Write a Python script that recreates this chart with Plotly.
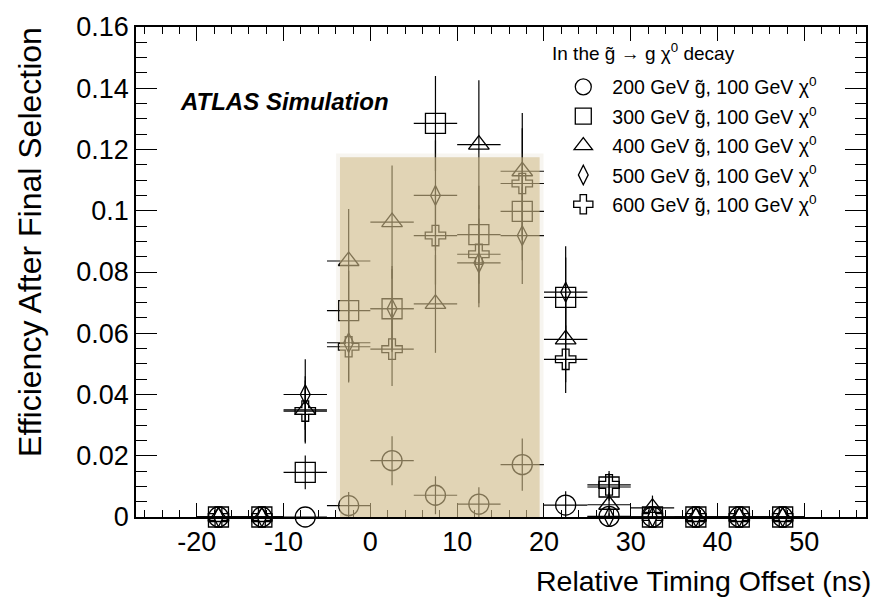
import plotly.graph_objects as go

# ---- data ----
timing_offset = [-17.5, -12.5, -7.5, -2.5, 2.5, 7.5, 12.5, 17.5, 22.5, 27.5, 32.5, 37.5, 42.5, 47.5]
bin_half_width = [2.5] * len(timing_offset)

eff_200 = [0, 0, 0, 0.0037, 0.0184, 0.0071, 0.0042, 0.0171, 0.0039, 0.0002, 0, 0, 0, 0]
err_200 = [0, 0, 0, 0.0045, 0.008, 0.0062, 0.0055, 0.0085, 0.0045, 0.001, 0, 0, 0, 0]

eff_300 = [0, 0, 0.0146, 0.0674, 0.068, 0.1285, 0.0922, 0.0998, 0.0717, 0.0098, 0, 0, 0, 0]
err_300 = [0, 0, 0.0055, 0.013, 0.013, 0.0155, 0.016, 0.016, 0.013, 0.0045, 0, 0, 0, 0]

eff_400 = [0, 0, 0.035, 0.0836, 0.0963, 0.0696, 0.1216, 0.1129, 0.058, 0.004, 0.003, 0, 0, 0]
err_400 = [0, 0, 0.011, 0.017, 0.0185, 0.016, 0.021, 0.019, 0.014, 0.004, 0.004, 0, 0, 0]

eff_500 = [0, 0, 0.040, 0.0569, 0.068, 0.105, 0.083, 0.0919, 0.0734, 0, 0, 0, 0, 0]
err_500 = [0, 0, 0.0115, 0.013, 0.014, 0.018, 0.0145, 0.0158, 0.015, 0, 0, 0, 0, 0]

eff_600 = [0, 0, 0.0346, 0.0556, 0.0548, 0.0919, 0.0858, 0.1089, 0.0515, 0.0105, 0, 0, 0, 0]
err_600 = [0, 0, 0.010, 0.0113, 0.012, 0.016, 0.016, 0.018, 0.011, 0.0045, 0, 0, 0, 0]

series_names = [
    "200 GeV g\u0303, 100 GeV \u03c7<sup>0</sup>",
    "300 GeV g\u0303, 100 GeV \u03c7<sup>0</sup>",
    "400 GeV g\u0303, 100 GeV \u03c7<sup>0</sup>",
    "500 GeV g\u0303, 100 GeV \u03c7<sup>0</sup>",
    "600 GeV g\u0303, 100 GeV \u03c7<sup>0</sup>",
]
series_values = [eff_200, eff_300, eff_400, eff_500, eff_600]
series_errors = [err_200, err_300, err_400, err_500, err_600]
series_symbols = ["circle-open", "square-open", "triangle-up-open", "diamond-tall-open", "cross-open"]
series_sizes = [20, 20, 18, 14, 17]

x_tick_values = [-20, -10, 0, 10, 20, 30, 40, 50]
x_tick_labels = ["-20", "-10", "0", "10", "20", "30", "40", "50"]
y_tick_values = [0, 0.02, 0.04, 0.06, 0.08, 0.1, 0.12, 0.14, 0.16]
y_tick_labels = ["0", "0.02", "0.04", "0.06", "0.08", "0.1", "0.12", "0.14", "0.16"]

# selection window (shaded band)
window_x = [-3.5, 19.5]
window_top = 0.1175

FONT = "Liberation Sans, Arial, Helvetica, sans-serif"

fig = go.Figure()
for i, (name, ys, es, sym, sz) in enumerate(zip(series_names, series_values, series_errors,
                                                 series_symbols, series_sizes)):
    fig.add_trace(go.Scatter(
        x=timing_offset, y=ys, mode="markers", name=name,
        legendgroup=f"g{i}",
        cliponaxis=False,
        marker=dict(symbol=sym, size=sz, color="black", line=dict(color="black", width=1.3)),
        error_y=dict(type="data", array=es, arrayminus=[min(e, y) for e, y in zip(es, ys)],
                     symmetric=False, color="black", thickness=1.2, width=0),
        error_x=dict(type="data", array=bin_half_width, color="black", thickness=1.2, width=0),
    ))

# soft shadow around the band, then the band itself
fig.add_shape(type="rect", xref="x", yref="y",
              x0=window_x[0] - 0.45, x1=window_x[1] + 0.45, y0=0, y1=window_top + 0.0012,
              fillcolor="rgba(180,160,110,0.10)", line=dict(width=0), layer="above")
fig.add_shape(type="rect", xref="x", yref="y",
              x0=window_x[0], x1=window_x[1], y0=0, y1=window_top,
              fillcolor="rgba(209,188,137,0.58)", line=dict(width=0), layer="above")

axis_common = dict(
    showgrid=False, zeroline=False, showline=True, linecolor="black", linewidth=1.5,
    mirror="ticks", ticks="inside", tickcolor="black", tickwidth=1.2,
    tickfont=dict(family=FONT, size=27, color="black"),
)

fig.update_xaxes(range=[-27, 57.1], tickvals=x_tick_values, ticktext=x_tick_labels, ticklen=14,
                 minor=dict(dtick=2, tick0=0, ticklen=7, ticks="inside", tickcolor="black", tickwidth=1.2),
                 **axis_common)
fig.update_yaxes(range=[0, 0.16], tickvals=y_tick_values, ticktext=y_tick_labels, ticklen=21,
                 minor=dict(dtick=0.005, tick0=0, ticklen=11, ticks="inside", tickcolor="black", tickwidth=1.2),
                 **axis_common)

fig.add_annotation(text="<b><i>ATLAS Simulation</i></b>", xref="paper", yref="paper",
                   x=0.0575, y=0.848, xanchor="left", yanchor="middle", showarrow=False,
                   font=dict(family=FONT, size=24, color="black"))
fig.add_annotation(text="Efficiency After Final Selection", xref="paper", yref="paper",
                   x=-0.145, y=0.5616, xanchor="center", yanchor="middle", textangle=-90,
                   showarrow=False, font=dict(family=FONT, size=32, color="black"))
fig.add_annotation(text="Relative Timing Offset (ns)", xref="paper", yref="paper",
                   x=1.01, y=-0.131, xanchor="right", yanchor="middle", showarrow=False,
                   font=dict(family=FONT, size=28.5, color="black"))
# legend header
fig.add_annotation(text="In the g\u0303 \u2192 g \u03c7<sup>0</sup> decay", xref="paper", yref="paper",
                   x=0.567, y=0.948, xanchor="left", yanchor="middle", showarrow=False,
                   font=dict(family=FONT, size=19, color="black"))

fig.update_layout(
    width=882, height=600,
    margin=dict(l=136, r=16, t=22, b=83),
    paper_bgcolor="white", plot_bgcolor="white",
    showlegend=True,
    legend=dict(
        x=0.573, y=0.917, xanchor="left", yanchor="top",
        bgcolor="rgba(0,0,0,0)", borderwidth=0,
        font=dict(family=FONT, size=19.5, color="black"),
        tracegroupgap=1, traceorder="grouped", itemwidth=48,
    ),
)

fig.write_html("out.html")
